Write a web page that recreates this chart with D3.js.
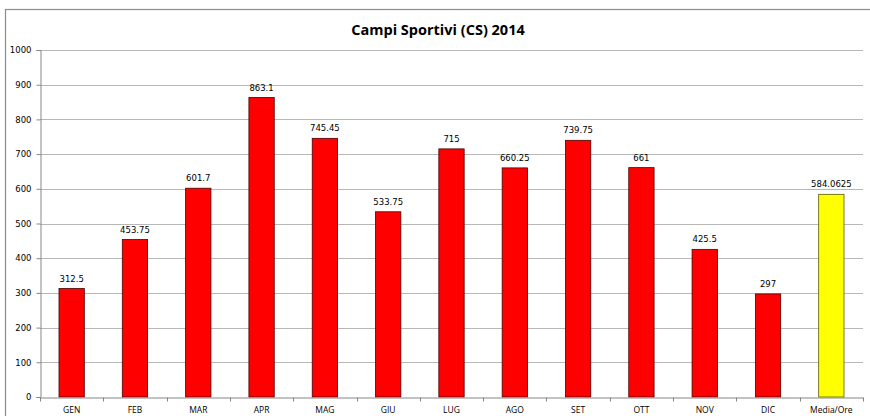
<!DOCTYPE html>
<html>
<head>
<meta charset="utf-8">
<script src="https://cdn.jsdelivr.net/npm/d3@7"></script>
<style>
  body { margin: 0; background: #fff; }
  svg { display: block; }
</style>
</head>
<body>
<script>
let w = 870;
let h = 416;

let title = "Campi Sportivi (CS) 2014";
let months = ["GEN", "FEB", "MAR", "APR", "MAG", "GIU", "LUG", "AGO", "SET", "OTT", "NOV", "DIC", "Media/Ore"];
let values = [312.5, 453.75, 601.7, 863.1, 745.45, 533.75, 715, 660.25, 739.75, 661, 425.5, 297, 584.0625];
let yTicks = [0, 100, 200, 300, 400, 500, 600, 700, 800, 900, 1000];

let margin = { left: 40, right: 7, top: 50, bottom: 19 };

let svg = d3.select("body").append("svg").attr("width", w).attr("height", h);

// outer chart frame (right/bottom edges fall outside the window)
svg.append("rect")
  .attr("x", 5.5).attr("y", 9.5)
  .attr("width", w + 10).attr("height", h + 10)
  .attr("fill", "#fff")
  .attr("stroke", "#8c8c8c")
  .attr("stroke-width", 1.2);

let x = d3.scaleBand()
  .domain(months)
  .range([margin.left, w - margin.right])
  .paddingInner(0.6)
  .paddingOuter(0.3);

let y = d3.scaleLinear()
  .domain([0, 1000])
  .range([h - margin.bottom, margin.top]);

// gridlines
svg.append("g")
  .selectAll("line")
  .data(yTicks.slice(1))
  .enter()
  .append("line")
  .attr("x1", margin.left)
  .attr("x2", w - margin.right)
  .attr("y1", d => Math.round(y(d)) + 0.5)
  .attr("y2", d => Math.round(y(d)) + 0.5)
  .attr("stroke", "#b8b8b8")
  .attr("stroke-width", 1);

// bars
svg.append("g")
  .selectAll("rect")
  .data(values)
  .enter()
  .append("rect")
  .attr("x", (d, i) => x(months[i]))
  .attr("y", d => y(d))
  .attr("width", x.bandwidth())
  .attr("height", d => y(0) - y(d))
  .attr("fill", (d, i) => i == 12 ? "#ffff00" : "#ff0000")
  .attr("stroke", (d, i) => i == 12 ? "#5a5a00" : "#4a0000")
  .attr("stroke-width", 0.8);

// data labels
svg.append("g")
  .selectAll("text")
  .data(values)
  .enter()
  .append("text")
  .text(d => d)
  .attr("x", (d, i) => x(months[i]) + x.bandwidth() / 2)
  .attr("y", d => y(d) - 7)
  .attr("text-anchor", "middle")
  .attr("font-family", "'DejaVu Sans', sans-serif")
  .attr("font-size", 8.5)
  .attr("fill", "#000");

// y axis
let yAxis = d3.axisLeft(y).tickValues(yTicks).tickSize(4).tickPadding(5).tickFormat(d3.format("d"));
let ya = svg.append("g")
  .attr("transform", `translate(${margin.left + 0.5},0)`)
  .call(yAxis);
ya.select(".domain").attr("stroke", "#868686");
ya.selectAll(".tick line").attr("stroke", "#868686");
ya.selectAll("text")
  .attr("font-family", "'DejaVu Sans', sans-serif")
  .attr("font-size", 8.5)
  .attr("fill", "#000");

// x axis
let xAxis = d3.axisBottom(x).tickSize(0).tickPadding(9);
let xa = svg.append("g")
  .attr("transform", `translate(0,${Math.round(y(0)) + 0.5})`)
  .call(xAxis);
xa.select(".domain").attr("stroke", "#868686");
xa.selectAll("text")
  .attr("font-family", "'Open Sans', sans-serif")
  .attr("font-size", 8.5)
  .attr("fill", "#000");

// category boundary ticks
let step = x.step();
xa.append("g")
  .selectAll("line")
  .data(d3.range(months.length + 1))
  .enter()
  .append("line")
  .attr("x1", i => Math.round(margin.left + i * step) + 0.5)
  .attr("x2", i => Math.round(margin.left + i * step) + 0.5)
  .attr("y1", 0)
  .attr("y2", 4)
  .attr("stroke", "#868686");

// title
svg.append("text")
  .text(title)
  .attr("x", 438)
  .attr("y", 35)
  .attr("text-anchor", "middle")
  .attr("font-family", "'Open Sans', sans-serif")
  .attr("font-weight", "bold")
  .attr("font-size", 14.5)
  .attr("fill", "#000");
</script>
</body>
</html>
